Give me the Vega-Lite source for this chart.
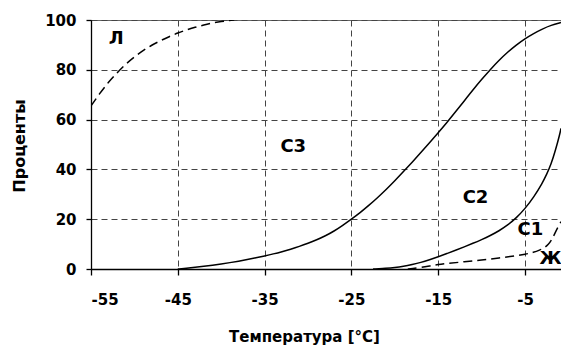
{
  "$schema": "https://vega.github.io/schema/vega-lite/v6.json",
  "width": 470,
  "height": 249,
  "autosize": {"type": "none"},
  "padding": {"left": 91, "top": 20, "right": 0, "bottom": 78},
  "config": {
    "font": "DejaVu Sans",
    "view": {"stroke": "#666666", "strokeWidth": 1}
  },
  "datasets": {
    "curves": [
      {"series": "L", "dash": "dashed", "t": -55, "p": 65.5},
      {"series": "L", "dash": "dashed", "t": -54, "p": 70.5},
      {"series": "L", "dash": "dashed", "t": -53, "p": 75},
      {"series": "L", "dash": "dashed", "t": -52, "p": 78.8},
      {"series": "L", "dash": "dashed", "t": -51, "p": 82.3},
      {"series": "L", "dash": "dashed", "t": -50, "p": 85.2},
      {"series": "L", "dash": "dashed", "t": -49, "p": 87.8},
      {"series": "L", "dash": "dashed", "t": -48, "p": 89.9},
      {"series": "L", "dash": "dashed", "t": -47, "p": 91.7},
      {"series": "L", "dash": "dashed", "t": -46, "p": 93.3},
      {"series": "L", "dash": "dashed", "t": -45, "p": 94.8},
      {"series": "L", "dash": "dashed", "t": -44, "p": 96},
      {"series": "L", "dash": "dashed", "t": -43, "p": 97.1},
      {"series": "L", "dash": "dashed", "t": -42, "p": 98},
      {"series": "L", "dash": "dashed", "t": -41, "p": 98.8},
      {"series": "L", "dash": "dashed", "t": -40, "p": 99.4},
      {"series": "L", "dash": "dashed", "t": -39, "p": 99.8},
      {"series": "L", "dash": "dashed", "t": -38.5, "p": 100},
      {"series": "C3", "dash": "solid", "t": -45, "p": 0},
      {"series": "C3", "dash": "solid", "t": -44, "p": 0.3},
      {"series": "C3", "dash": "solid", "t": -43, "p": 0.65},
      {"series": "C3", "dash": "solid", "t": -42, "p": 1.05},
      {"series": "C3", "dash": "solid", "t": -41, "p": 1.5},
      {"series": "C3", "dash": "solid", "t": -40, "p": 2.0},
      {"series": "C3", "dash": "solid", "t": -39, "p": 2.55},
      {"series": "C3", "dash": "solid", "t": -38, "p": 3.15},
      {"series": "C3", "dash": "solid", "t": -37, "p": 3.8},
      {"series": "C3", "dash": "solid", "t": -36, "p": 4.5},
      {"series": "C3", "dash": "solid", "t": -35, "p": 5.25},
      {"series": "C3", "dash": "solid", "t": -34, "p": 6.05},
      {"series": "C3", "dash": "solid", "t": -33, "p": 6.95},
      {"series": "C3", "dash": "solid", "t": -32, "p": 7.95},
      {"series": "C3", "dash": "solid", "t": -31, "p": 9.05},
      {"series": "C3", "dash": "solid", "t": -30, "p": 10.3},
      {"series": "C3", "dash": "solid", "t": -29, "p": 11.7},
      {"series": "C3", "dash": "solid", "t": -28, "p": 13.3},
      {"series": "C3", "dash": "solid", "t": -27, "p": 15.2},
      {"series": "C3", "dash": "solid", "t": -26, "p": 17.5},
      {"series": "C3", "dash": "solid", "t": -25, "p": 20},
      {"series": "C3", "dash": "solid", "t": -24, "p": 22.6},
      {"series": "C3", "dash": "solid", "t": -23, "p": 25.5},
      {"series": "C3", "dash": "solid", "t": -22, "p": 28.6},
      {"series": "C3", "dash": "solid", "t": -21, "p": 31.9},
      {"series": "C3", "dash": "solid", "t": -20, "p": 35.4},
      {"series": "C3", "dash": "solid", "t": -19, "p": 39.1},
      {"series": "C3", "dash": "solid", "t": -18, "p": 42.9},
      {"series": "C3", "dash": "solid", "t": -17, "p": 46.8},
      {"series": "C3", "dash": "solid", "t": -16, "p": 50.7},
      {"series": "C3", "dash": "solid", "t": -15, "p": 54.7},
      {"series": "C3", "dash": "solid", "t": -14, "p": 58.8},
      {"series": "C3", "dash": "solid", "t": -13, "p": 63.1},
      {"series": "C3", "dash": "solid", "t": -12, "p": 67.5},
      {"series": "C3", "dash": "solid", "t": -11, "p": 71.9},
      {"series": "C3", "dash": "solid", "t": -10, "p": 76.1},
      {"series": "C3", "dash": "solid", "t": -9, "p": 80.1},
      {"series": "C3", "dash": "solid", "t": -8, "p": 83.8},
      {"series": "C3", "dash": "solid", "t": -7, "p": 87.1},
      {"series": "C3", "dash": "solid", "t": -6, "p": 90.0},
      {"series": "C3", "dash": "solid", "t": -5, "p": 92.5},
      {"series": "C3", "dash": "solid", "t": -4, "p": 94.6},
      {"series": "C3", "dash": "solid", "t": -3, "p": 96.4},
      {"series": "C3", "dash": "solid", "t": -2, "p": 97.9},
      {"series": "C3", "dash": "solid", "t": -0.85, "p": 99},
      {"series": "C2", "dash": "solid", "t": -22.5, "p": 0},
      {"series": "C2", "dash": "solid", "t": -21, "p": 0.3},
      {"series": "C2", "dash": "solid", "t": -20, "p": 0.6},
      {"series": "C2", "dash": "solid", "t": -19, "p": 1.1},
      {"series": "C2", "dash": "solid", "t": -18, "p": 1.8},
      {"series": "C2", "dash": "solid", "t": -17, "p": 2.6},
      {"series": "C2", "dash": "solid", "t": -16, "p": 3.7},
      {"series": "C2", "dash": "solid", "t": -15, "p": 4.9},
      {"series": "C2", "dash": "solid", "t": -14, "p": 6.2},
      {"series": "C2", "dash": "solid", "t": -13, "p": 7.5},
      {"series": "C2", "dash": "solid", "t": -12, "p": 8.9},
      {"series": "C2", "dash": "solid", "t": -11, "p": 10.3},
      {"series": "C2", "dash": "solid", "t": -10, "p": 11.8},
      {"series": "C2", "dash": "solid", "t": -9, "p": 13.4},
      {"series": "C2", "dash": "solid", "t": -8, "p": 15.3},
      {"series": "C2", "dash": "solid", "t": -7, "p": 17.6},
      {"series": "C2", "dash": "solid", "t": -6, "p": 20.5},
      {"series": "C2", "dash": "solid", "t": -5, "p": 24.2},
      {"series": "C2", "dash": "solid", "t": -4, "p": 28.8},
      {"series": "C2", "dash": "solid", "t": -3, "p": 34.5},
      {"series": "C2", "dash": "solid", "t": -2.5, "p": 38},
      {"series": "C2", "dash": "solid", "t": -2, "p": 42},
      {"series": "C2", "dash": "solid", "t": -1.5, "p": 47.5},
      {"series": "C2", "dash": "solid", "t": -1, "p": 54},
      {"series": "C2", "dash": "solid", "t": -0.85, "p": 56.5},
      {"series": "Zh", "dash": "dashed", "t": -18.5, "p": 0},
      {"series": "Zh", "dash": "dashed", "t": -18, "p": 0.15},
      {"series": "Zh", "dash": "dashed", "t": -17, "p": 0.6},
      {"series": "Zh", "dash": "dashed", "t": -16, "p": 1.2},
      {"series": "Zh", "dash": "dashed", "t": -15, "p": 1.8},
      {"series": "Zh", "dash": "dashed", "t": -14, "p": 2.2},
      {"series": "Zh", "dash": "dashed", "t": -12, "p": 2.9},
      {"series": "Zh", "dash": "dashed", "t": -10, "p": 3.6},
      {"series": "Zh", "dash": "dashed", "t": -8, "p": 4.4},
      {"series": "Zh", "dash": "dashed", "t": -6, "p": 5.3},
      {"series": "Zh", "dash": "dashed", "t": -5, "p": 5.9},
      {"series": "Zh", "dash": "dashed", "t": -4, "p": 6.7},
      {"series": "Zh", "dash": "dashed", "t": -3.3, "p": 7.6},
      {"series": "Zh", "dash": "dashed", "t": -2.8, "p": 8.4},
      {"series": "Zh", "dash": "dashed", "t": -2.3, "p": 9.8},
      {"series": "Zh", "dash": "dashed", "t": -1.9, "p": 11.8},
      {"series": "Zh", "dash": "dashed", "t": -1.6, "p": 14},
      {"series": "Zh", "dash": "dashed", "t": -1.2, "p": 16.8},
      {"series": "Zh", "dash": "dashed", "t": -0.85, "p": 19}
    ],
    "labels": [
      {"name": "Л", "t": -52.1, "p": 92.4},
      {"name": "С3", "t": -31.7, "p": 49},
      {"name": "С2", "t": -10.7, "p": 28.7},
      {"name": "С1", "t": -4.37, "p": 15.5},
      {"name": "Ж", "t": -2.06, "p": 4.0}
    ]
  },
  "layer": [
    {
      "data": {"name": "curves"},
      "transform": [{"filter": "datum.dash === 'solid'"}],
      "mark": {"type": "line", "color": "black", "strokeWidth": 1.5, "interpolate": "basis", "clip": true},
      "encoding": {
        "x": {
          "field": "t", "type": "quantitative",
          "scale": {"domain": [-55, -0.85], "nice": false, "zero": false},
          "axis": {
            "values": [-55, -45, -35, -25, -15, -5],
            "labelExpr": "replace(datum.label, '−', '-')",
            "grid": true, "gridDash": [6, 4], "gridColor": "#444444", "gridWidth": 1, "gridOpacity": 1,
            "domain": true, "domainColor": "black", "domainWidth": 1.3,
            "ticks": true, "tickColor": "black", "tickSize": 6, "tickWidth": 1.3,
            "labelFont": "DejaVu Sans", "labelFontWeight": "bold", "labelFontSize": 15, "labelColor": "black",
            "labelBaseline": "alphabetic", "labelPadding": 29,
            "title": "Температура [°C]",
            "titleFont": "DejaVu Sans", "titleFontWeight": "bold", "titleFontSize": 15, "titleColor": "black",
            "titleX": 213, "titleY": 72.5, "titleBaseline": "alphabetic", "titleAlign": "center"
          }
        },
        "y": {
          "field": "p", "type": "quantitative",
          "scale": {"domain": [0, 100], "nice": false},
          "axis": {
            "values": [0, 20, 40, 60, 80, 100],
            "grid": true, "gridDash": [6, 4], "gridColor": "#444444", "gridWidth": 1, "gridOpacity": 1,
            "domain": true, "domainColor": "black", "domainWidth": 1.3,
            "ticks": true, "tickColor": "black", "tickSize": 5, "tickWidth": 1.3,
            "labelFont": "DejaVu Sans", "labelFontWeight": "bold", "labelFontSize": 15, "labelColor": "black",
            "labelPadding": 10,
            "title": "Проценты",
            "titleFont": "DejaVu Sans", "titleFontWeight": "bold", "titleFontSize": 16, "titleColor": "black",
            "titleX": -67, "titleY": 125.5, "titleBaseline": "alphabetic", "titleAlign": "center", "titleAngle": -90
          }
        },
        "detail": {"field": "series", "type": "nominal"}
      }
    },
    {
      "data": {"name": "curves"},
      "transform": [{"filter": "datum.dash === 'dashed'"}],
      "mark": {"type": "line", "color": "black", "strokeWidth": 1.5, "strokeDash": [9, 5], "interpolate": "basis", "clip": true},
      "encoding": {
        "x": {"field": "t", "type": "quantitative"},
        "y": {"field": "p", "type": "quantitative"},
        "detail": {"field": "series", "type": "nominal"}
      }
    },
    {
      "data": {"name": "labels"},
      "mark": {"type": "text", "font": "DejaVu Sans", "fontWeight": "bold", "fontSize": 18, "color": "black", "align": "center", "baseline": "middle"},
      "encoding": {
        "x": {"field": "t", "type": "quantitative"},
        "y": {"field": "p", "type": "quantitative"},
        "text": {"field": "name", "type": "nominal"}
      }
    }
  ]
}
